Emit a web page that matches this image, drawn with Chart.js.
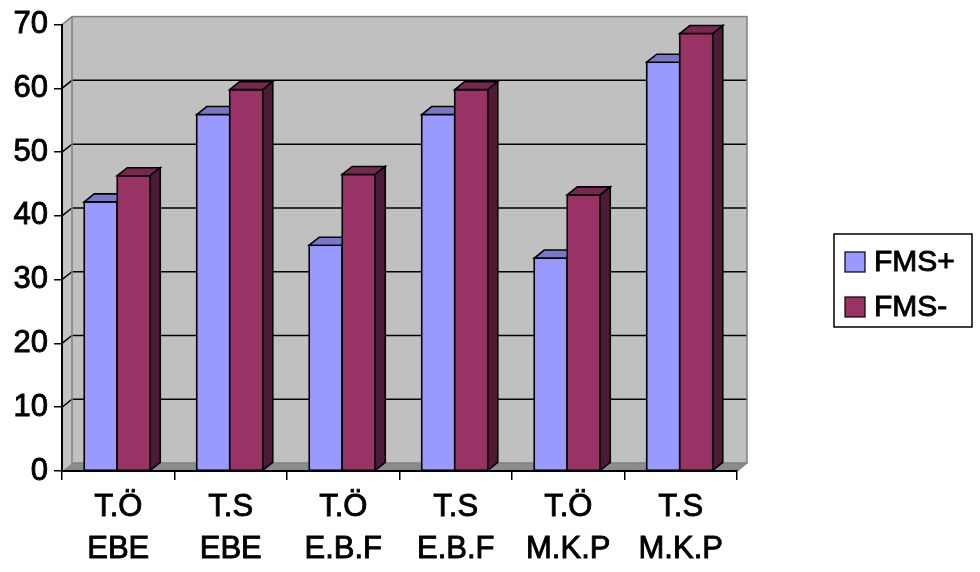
<!DOCTYPE html>
<html>
<head>
<meta charset="utf-8">
<script src="https://cdn.jsdelivr.net/npm/chart.js@4.4.1/dist/chart.umd.min.js"></script>
<style>
  html, body { margin: 0; padding: 0; background: #ffffff; }
  #wrap { width: 980px; height: 572px; }
</style>
</head>
<body>
<div id="wrap"><canvas id="c" width="980" height="572"></canvas></div>
<script>
// Categories (two-line labels) and the two series
const categories = [
  ['T.Ö', 'EBE'],
  ['T.S', 'EBE'],
  ['T.Ö', 'E.B.F'],
  ['T.S', 'E.B.F'],
  ['T.Ö', 'M.K.P'],
  ['T.S', 'M.K.P']
];
const seriesNames = ['FMS+', 'FMS-'];
const fmsPlus  = [42.2, 55.9, 35.4, 55.9, 33.4, 64.1];
const fmsMinus = [46.3, 59.8, 46.5, 59.8, 43.3, 68.6];
const yMin = 0, yMax = 70, yStep = 10;

// Face colours: front, top, side
const faceColors = [
  { front: '#9999ff', top: '#7878c8', side: '#5c5c9e' },
  { front: '#993366', top: '#772850', side: '#4e1a35' }
];

const DX = 10, DY = -8;          // 3D depth offset
const FONT = "'Liberation Sans', Arial, sans-serif";

function poly(ctx, pts) {
  ctx.beginPath();
  ctx.moveTo(pts[0][0], pts[0][1]);
  for (let i = 1; i < pts.length; i++) ctx.lineTo(pts[i][0], pts[i][1]);
  ctx.closePath();
}

// Walls, floor and back-wall gridlines
const wallsPlugin = {
  id: 'walls',
  beforeDraw(chart) {
    const { ctx, chartArea: a, scales: { y } } = chart;
    ctx.save();
    // back wall
    ctx.fillStyle = '#c0c0c0';
    ctx.fillRect(a.left + DX, a.top + DY, a.right - a.left, a.bottom - a.top);
    // left wall
    poly(ctx, [[a.left, a.bottom], [a.left, a.top], [a.left + DX, a.top + DY], [a.left + DX, a.bottom + DY]]);
    ctx.fillStyle = '#c4c4c4';
    ctx.fill();
    // floor
    poly(ctx, [[a.left, a.bottom], [a.right, a.bottom], [a.right + DX, a.bottom + DY], [a.left + DX, a.bottom + DY]]);
    ctx.fillStyle = '#8c8c8c';
    ctx.fill();

    // gridlines
    ctx.strokeStyle = '#000000';
    ctx.lineWidth = 1.5;
    for (let v = yMin + yStep; v < yMax; v += yStep) {
      const py = y.getPixelForValue(v);
      ctx.beginPath();
      ctx.moveTo(a.left, py);
      ctx.lineTo(a.left + DX, py + DY);
      ctx.lineTo(a.right + DX, py + DY);
      ctx.stroke();
    }

    // wall edges
    ctx.strokeStyle = '#808080';
    ctx.lineWidth = 1.5;
    ctx.strokeRect(a.left + DX, a.top + DY, a.right - a.left, a.bottom - a.top);
    ctx.beginPath();
    ctx.moveTo(a.left, a.top);
    ctx.lineTo(a.left + DX, a.top + DY);
    ctx.moveTo(a.right, a.bottom);
    ctx.lineTo(a.right + DX, a.bottom + DY);
    ctx.stroke();
    ctx.restore();
  }
};

// Top and side faces of each bar, drawn category by category
const barsPlugin = {
  id: 'bars3d',
  afterDatasetsDraw(chart) {
    const { ctx } = chart;
    const metas = [chart.getDatasetMeta(0), chart.getDatasetMeta(1)];
    ctx.save();
    ctx.lineJoin = 'miter';
    ctx.strokeStyle = '#000000';
    ctx.lineWidth = 1.6;
    for (let i = 0; i < categories.length; i++) {
      metas.forEach((meta, d) => {
        const el = meta.data[i];
        const p = el.getProps(['x', 'y', 'base', 'width'], true);
        const l = p.x - p.width / 2 - 1, r = p.x + p.width / 2 - 1;
        const t = p.y, b = p.base;
        const c = faceColors[d];
        // front
        ctx.fillStyle = c.front;
        ctx.fillRect(l, t, r - l, b - t);
        ctx.strokeRect(l, t, r - l, b - t);
        // top
        poly(ctx, [[l, t], [l + DX, t + DY], [r + DX, t + DY], [r, t]]);
        ctx.fillStyle = c.top;
        ctx.fill();
        ctx.stroke();
        // side
        poly(ctx, [[r, t], [r + DX, t + DY], [r + DX, b + DY], [r, b]]);
        ctx.fillStyle = c.side;
        ctx.fill();
        ctx.stroke();
      });
    }
    ctx.restore();
  }
};

// Boxed legend on the right
const legendPlugin = {
  id: 'boxLegend',
  afterDraw(chart) {
    const { ctx } = chart;
    ctx.save();
    ctx.strokeStyle = '#000000';
    ctx.lineWidth = 1.5;
    ctx.fillStyle = '#ffffff';
    ctx.fillRect(834, 234, 138, 93);
    ctx.strokeRect(834, 234, 138, 93);
    const rows = [262, 307];
    seriesNames.forEach((name, d) => {
      const cy = rows[d];
      ctx.fillStyle = faceColors[d].front;
      ctx.fillRect(845, cy - 10, 20, 20);
      ctx.lineWidth = 1.2;
      ctx.strokeRect(845, cy - 10, 20, 20);
      ctx.fillStyle = '#000000';
      ctx.font = '30px ' + FONT;
      ctx.textBaseline = 'middle';
      ctx.textAlign = 'left';
      ctx.lineWidth = 0.9;
      ctx.fillText(name, 874, cy + 1);
      ctx.strokeText(name, 874, cy + 1);
    });
    ctx.restore();
  }
};

new Chart(document.getElementById('c'), {
  type: 'bar',
  data: {
    labels: categories,
    datasets: [
      { label: seriesNames[0], data: fmsPlus, backgroundColor: faceColors[0].front,
        borderColor: '#000', borderWidth: 0, categoryPercentage: 0.587, barPercentage: 1 },
      { label: seriesNames[1], data: fmsMinus, backgroundColor: faceColors[1].front,
        borderColor: '#000', borderWidth: 0, categoryPercentage: 0.587, barPercentage: 1 }
    ]
  },
  options: {
    responsive: false,
    animation: false,
    layout: { padding: { top: 15, right: 243, left: 0, bottom: 0 } },
    plugins: { legend: { display: false }, tooltip: { enabled: false } },
    scales: {
      x: {
        grid: { display: true, drawOnChartArea: false, drawTicks: true, tickLength: 9,
                color: '#000', lineWidth: 1.5, offset: true },
        border: { display: true, color: '#000', width: 2 },
        ticks: { color: '#000', font: { family: FONT, size: 31, lineHeight: 1.36 },
                 textStrokeColor: '#000', textStrokeWidth: 0.9,
                 padding: 6, maxRotation: 0, autoSkip: false },
        afterFit(s) { s.height = 101; }
      },
      y: {
        min: yMin, max: yMax,
        grid: { display: true, drawOnChartArea: false, drawTicks: true, tickLength: 8,
                color: '#000', lineWidth: 1.5 },
        border: { display: true, color: '#000', width: 2 },
        ticks: { stepSize: yStep, color: '#000', font: { family: FONT, size: 31 },
                 textStrokeColor: '#000', textStrokeWidth: 0.9, padding: 6 },
        afterFit(s) { s.width = 62; }
      }
    }
  },
  plugins: [wallsPlugin, barsPlugin, legendPlugin]
});
</script>
</body>
</html>
